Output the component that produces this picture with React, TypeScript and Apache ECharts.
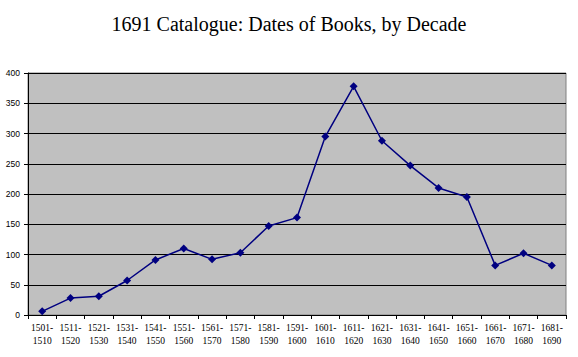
import React, { useEffect, useRef } from "react";
import * as echarts from "echarts";

const categories = [
  "1501-\n1510", "1511-\n1520", "1521-\n1530", "1531-\n1540", "1541-\n1550",
  "1551-\n1560", "1561-\n1570", "1571-\n1580", "1581-\n1590", "1591-\n1600",
  "1601-\n1610", "1611-\n1620", "1621-\n1630", "1631-\n1640", "1641-\n1650",
  "1651-\n1660", "1661-\n1670", "1671-\n1680", "1681-\n1690",
];
const books = [6, 28, 31, 57, 91, 110, 92, 103, 147, 161, 295, 378, 288, 247, 210, 195, 82, 102, 82];
const titleText = "1691 Catalogue: Dates of Books, by Decade";

export default function App() {
  const ref = useRef<HTMLDivElement>(null);
  useEffect(() => {
    const chart = echarts.init(ref.current!, null, { renderer: "svg" });
    chart.setOption({
      animation: false,
      backgroundColor: "#ffffff",
      title: {
        text: titleText,
        left: "center",
        top: 9,
        textStyle: { fontFamily: "Liberation Serif", fontSize: 20, fontWeight: "normal", color: "#000" },
      },
      grid: {
        left: 28, right: 12, top: 73, bottom: 42,
        show: true, backgroundColor: "#C0C0C0", borderColor: "#808080", borderWidth: 1,
      },
      xAxis: {
        type: "category",
        data: categories,
        boundaryGap: true,
        axisLine: { lineStyle: { color: "#000", width: 1 } },
        axisTick: { show: true, alignWithLabel: false, length: 4, lineStyle: { color: "#000" } },
        axisLabel: {
          interval: 0, fontFamily: "Liberation Serif", fontSize: 9.5, color: "#000",
          lineHeight: 13, margin: 6,
        },
      },
      yAxis: {
        type: "value",
        min: 0, max: 400, interval: 50,
        axisLine: { show: true, lineStyle: { color: "#000" } },
        axisTick: { show: true, length: 4, lineStyle: { color: "#000" } },
        splitLine: { lineStyle: { color: "#000", width: 1.2 } },
        axisLabel: { fontFamily: "Liberation Sans", fontSize: 8.5, color: "#000", margin: 8 },
      },
      series: [
        {
          type: "line",
          data: books,
          symbol: "diamond",
          symbolSize: 8,
          lineStyle: { color: "#000080", width: 1.5 },
          itemStyle: { color: "#000080" },
        },
      ],
    });
    return () => chart.dispose();
  }, []);
  return <div ref={ref} style={{ width: 578, height: 357, position: "absolute", left: 0, top: 0 }} />;
}
